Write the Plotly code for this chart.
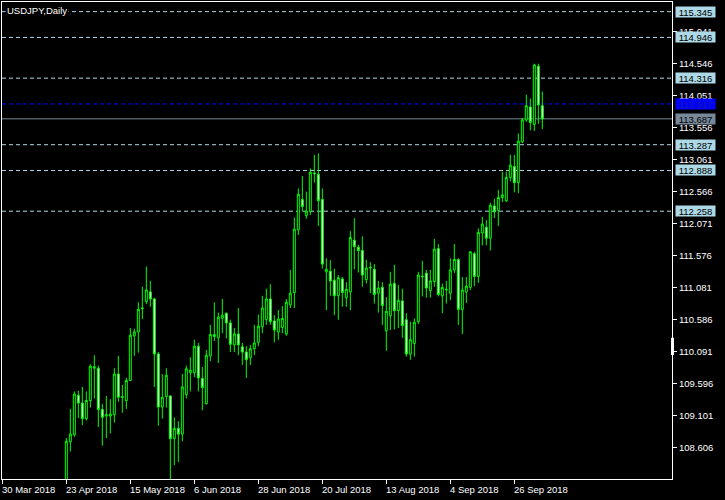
import plotly.graph_objects as go
import pandas as pd

# ---------------- data ----------------
trading_days = pd.bdate_range("2018-03-30", "2018-10-05")
first_bar = 16  # 23 Apr 2018 (earlier bars lie below the visible price range)

open_ = [107.65, 108.69, 108.80, 109.41, 109.29, 109.05, 109.33, 109.83, 109.83, 109.19,
         109.09, 109.09, 109.11, 109.74, 109.39, 109.33, 109.64, 110.33, 110.39, 110.75,
         110.86, 111.01, 110.90, 110.05, 109.23, 109.39, 109.40, 108.74, 108.90, 108.81,
         109.42, 109.76, 109.76, 110.17, 109.67, 109.28, 110.02, 110.32, 110.30, 110.60,
         110.68, 110.53, 110.19, 110.36, 110.16, 110.08, 109.99, 110.13, 110.23, 110.47,
         110.58, 110.90, 110.56, 110.39, 110.46, 110.36, 110.81, 111.00, 111.97, 112.44,
         112.19, 112.25, 112.85, 112.83, 112.44, 111.32, 111.33, 111.19, 110.95, 111.21,
         110.92, 111.01, 111.81, 111.70, 111.65, 111.20, 111.38, 111.36, 110.99, 111.08,
         110.41, 110.64, 111.14, 110.72, 110.87, 110.58, 110.05, 110.21, 110.55, 111.24,
         111.30, 111.03, 111.17, 111.68, 110.95, 111.04, 110.99, 111.35, 111.51, 110.74,
         111.01, 111.08, 111.60, 111.25, 111.92, 112.01, 111.84, 112.34, 112.27, 112.47,
         112.42, 112.78, 112.95, 112.70, 113.33, 113.67, 113.87, 113.60, 114.50, 113.89]
high = [108.75, 109.20, 109.47, 109.48, 109.54, 109.47, 109.89, 110.03, 109.87, 109.28,
        109.40, 109.35, 109.83, 110.02, 109.57, 109.68, 110.45, 110.44, 110.85, 111.09,
        111.40, 111.18, 110.92, 110.08, 109.74, 109.83, 109.41, 109.07, 109.01, 109.74,
        109.87, 110.00, 110.27, 110.22, 109.85, 110.11, 110.50, 110.85, 110.69, 110.90,
        110.69, 110.58, 110.45, 110.76, 110.22, 110.17, 110.19, 110.50, 110.66, 110.95,
        111.06, 111.13, 110.65, 110.73, 110.79, 110.90, 111.35, 112.16, 112.61, 112.80,
        112.56, 112.92, 113.13, 113.15, 112.61, 111.53, 111.50, 111.37, 111.27, 111.24,
        111.16, 111.95, 112.15, 111.74, 111.87, 111.51, 111.47, 111.44, 111.18, 111.16,
        110.93, 111.32, 111.43, 111.12, 111.06, 110.68, 110.55, 110.60, 111.32, 111.49,
        111.35, 111.35, 111.83, 111.75, 111.14, 111.18, 111.53, 111.75, 111.53, 111.24,
        111.24, 111.64, 111.63, 111.99, 112.17, 112.12, 112.39, 112.45, 112.59, 112.87,
        112.87, 113.13, 113.13, 113.46, 113.70, 114.06, 114.00, 114.54, 114.54, 114.11]
low = [107.55, 108.54, 108.77, 109.06, 108.95, 109.02, 109.22, 109.36, 108.92, 108.63,
       108.75, 108.82, 108.99, 109.31, 109.14, 109.20, 109.63, 110.02, 110.07, 110.59,
       110.82, 110.78, 109.54, 108.94, 109.05, 109.22, 108.10, 108.33, 108.38, 108.70,
       109.36, 109.47, 109.69, 109.47, 109.18, 109.27, 109.94, 110.25, 109.91, 110.37,
       110.29, 110.08, 110.08, 110.03, 109.88, 109.68, 109.88, 110.03, 110.17, 110.37,
       110.50, 110.50, 110.23, 110.27, 110.37, 110.33, 110.76, 110.76, 111.89, 112.25,
       112.14, 112.20, 112.70, 112.03, 111.37, 110.73, 110.95, 110.65, 110.58, 110.78,
       110.78, 110.73, 111.36, 111.31, 111.09, 111.14, 110.99, 110.83, 110.69, 110.50,
       110.10, 110.42, 110.43, 110.45, 110.30, 110.01, 109.96, 110.01, 110.51, 110.94,
       110.92, 110.92, 111.09, 110.94, 110.68, 110.83, 110.88, 111.30, 110.50, 110.36,
       110.84, 111.04, 111.10, 111.15, 111.73, 111.73, 111.65, 112.15, 112.03, 112.40,
       112.40, 112.72, 112.55, 112.54, 113.31, 113.64, 113.51, 113.50, 113.61, 113.53]
close = [108.70, 108.81, 109.43, 109.29, 109.05, 109.33, 109.86, 109.85, 109.19, 109.07,
         109.11, 109.12, 109.74, 109.38, 109.38, 109.64, 110.34, 110.39, 110.74, 110.76,
         111.04, 110.90, 110.05, 109.23, 109.38, 109.72, 108.74, 108.90, 108.81, 109.54,
         109.82, 109.80, 110.17, 109.68, 109.53, 110.03, 110.35, 110.35, 110.62, 110.65,
         110.53, 110.20, 110.36, 110.19, 110.08, 109.96, 110.13, 110.22, 110.48, 110.76,
         110.90, 110.55, 110.42, 110.59, 110.60, 110.85, 110.99, 111.98, 112.52, 112.33,
         112.26, 112.86, 112.84, 112.42, 111.44, 111.36, 111.18, 110.95, 111.23, 111.00,
         111.05, 111.85, 111.71, 111.65, 111.27, 111.38, 111.39, 110.97, 111.07, 110.80,
         110.71, 111.13, 110.72, 110.88, 110.49, 110.05, 110.27, 110.54, 111.27, 111.25,
         111.07, 111.18, 111.67, 110.97, 111.08, 111.05, 111.35, 111.51, 110.74, 111.04,
         111.10, 111.63, 111.25, 111.93, 112.06, 111.84, 112.35, 112.25, 112.47, 112.51,
         112.78, 112.97, 112.70, 113.34, 113.67, 113.89, 113.63, 114.52, 113.90, 113.687]

price_ticks = [108.606, 109.101, 109.596, 110.091, 110.586, 111.081, 111.576,
               112.071, 112.566, 113.061, 113.556, 114.051, 114.546, 115.041]
date_ticks = ["2018-03-30", "2018-04-23", "2018-05-15", "2018-06-06", "2018-06-28",
              "2018-07-20", "2018-08-13", "2018-09-04", "2018-09-26"]
level_lines = [115.345, 114.946, 114.316, 113.287, 112.888, 112.258]
blue_level = 113.917
last_price = 113.687
title_text = "USDJPY,Daily"

# ---------------- figure ----------------
x = list(range(first_bar, first_bar + len(open_)))
GREEN = "#00ff00"
LIGHTBLUE = "#add8e6"
FONT = "Liberation Sans"
FS = 9.5

fig = go.Figure(go.Candlestick(
    x=x, open=open_, high=high, low=low, close=close,
    increasing=dict(line=dict(color=GREEN, width=1), fillcolor="#000000"),
    decreasing=dict(line=dict(color=GREEN, width=1), fillcolor="#ffffff"),
    whiskerwidth=0, hoverinfo="skip", showlegend=False,
))

shapes = []
for v in level_lines:
    shapes.append(dict(type="line", xref="paper", x0=0, x1=1, yref="y", y0=v, y1=v,
                       line=dict(color=LIGHTBLUE, width=1, dash="4px,3px"), layer="below"))
shapes.append(dict(type="line", xref="paper", x0=0, x1=1, yref="y", y0=blue_level, y1=blue_level,
                   line=dict(color="#0000ff", width=1, dash="4px,3px"), layer="below"))
shapes.append(dict(type="line", xref="paper", x0=0, x1=1, yref="y", y0=last_price, y1=last_price,
                   line=dict(color="#778899", width=1), layer="below"))
# small scroll marker on the price scale border
shapes.append(dict(type="rect", xref="paper", x0=0.9985, x1=1.003, yref="paper", y0=0.26, y1=0.296,
                   fillcolor="#ffffff", line=dict(width=0)))

annotations = []
annotations.append(dict(text=title_text, xref="paper", yref="paper", x=0, y=1,
                        xanchor="left", yanchor="top", xshift=3, yshift=-1, showarrow=False,
                        bgcolor="#000000", borderpad=1,
                        font=dict(family=FONT, size=FS, color="#ffffff")))

def price_label(v, bg, fg):
    return dict(text=f"{v:.3f}", xref="paper", yref="y", x=1, y=v, xanchor="left",
                yanchor="middle", xshift=3, showarrow=False, bgcolor=bg, borderpad=0,
                width=39, height=10, align="center",
                font=dict(family=FONT, size=FS, color=fg))

for v in level_lines:
    annotations.append(price_label(v, LIGHTBLUE, "#000000"))
annotations.append(price_label(blue_level, "#0000ff", "#1a1aa0"))
annotations.append(price_label(last_price, "#778899", "#000000"))

tick_idx = [trading_days.get_loc(pd.Timestamp(d)) for d in date_ticks]
for d, i in zip(date_ticks, tick_idx):
    ts = pd.Timestamp(d)
    annotations.append(dict(text=f"{ts.day} {ts.strftime('%b %Y')}", xref="x", yref="paper",
                            x=i, y=0, xanchor="left", yanchor="top", xshift=-2, yshift=-3,
                            showarrow=False, font=dict(family=FONT, size=FS, color="#ffffff")))

fig.update_layout(
    width=725, height=500,
    paper_bgcolor="#000000", plot_bgcolor="#000000",
    margin=dict(l=2, r=53, t=2, b=21, autoexpand=False),
    shapes=shapes, annotations=annotations,
    showlegend=False, hovermode=False,
    boxgap=0.3,
    xaxis=dict(range=[-0.08, 167.42], rangeslider=dict(visible=False),
               tickvals=tick_idx, ticktext=["" for _ in tick_idx],
               ticks="outside", ticklen=4, tickcolor="#ffffff", tickwidth=1,
               showgrid=False, zeroline=False, showline=True, linecolor="#ffffff",
               linewidth=1, mirror=True),
    yaxis=dict(side="right", range=[108.116, 115.494],
               tickvals=price_ticks, ticktext=[f"{t:.3f}" for t in price_ticks],
               ticks="outside", ticklen=4, tickcolor="#ffffff", tickwidth=1,
               tickfont=dict(family=FONT, size=FS, color="#ffffff"),
               showgrid=False, zeroline=False, showline=True, linecolor="#ffffff",
               linewidth=1, mirror=True),
)

fig.write_html("out.html", config={"displayModeBar": False},
               post_script="document.body.style.margin='0';document.body.style.background='#000';")
